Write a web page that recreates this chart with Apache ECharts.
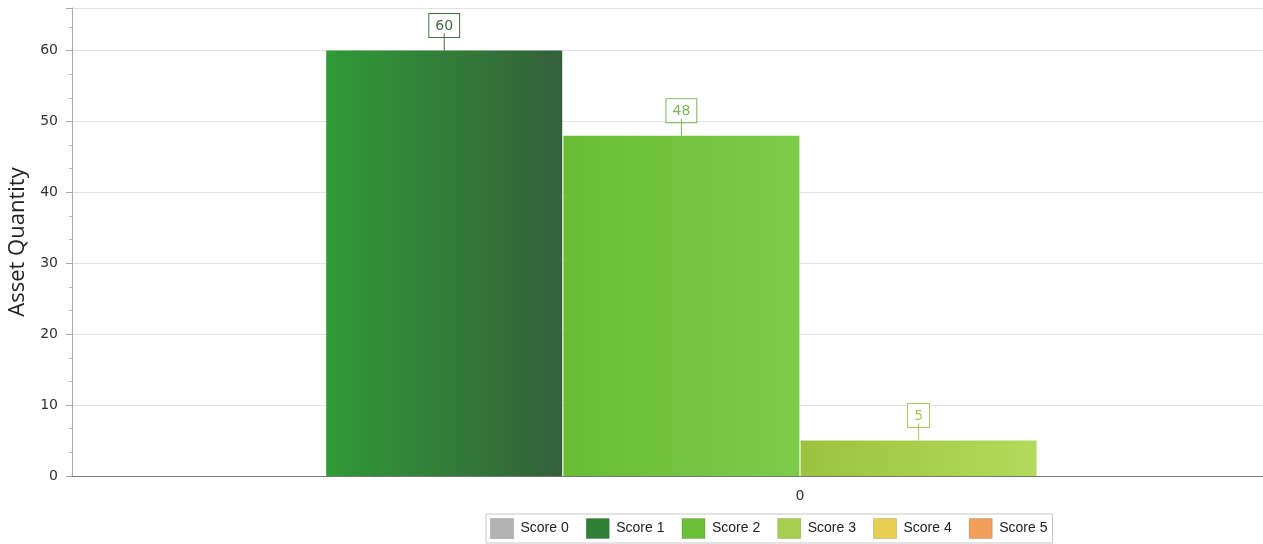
<!DOCTYPE html>
<html>
<head>
<meta charset="utf-8">
<script src="https://cdn.jsdelivr.net/npm/echarts@6/dist/echarts.min.js"></script>
<style>
  html, body { margin: 0; padding: 0; background: #fff; }
  #chart { width: 1263px; height: 544px; }
</style>
</head>
<body>
<div id="chart"></div>
<script>
// Asset quantity per score band
const categories = ['0'];
const seriesNames = ['Score 0', 'Score 1', 'Score 2', 'Score 3', 'Score 4', 'Score 5'];
const score0 = [0];
const score1 = [60];
const score2 = [48];
const score3 = [5];
const score4 = [0];
const score5 = [0];
const seriesValues = [score0, score1, score2, score3, score4, score5];

// fill gradient stops (left -> right) and label tint for each band
const fillLeft  = ['#b8b8b8', '#2f9a37', '#69bd35', '#9bc33f', '#e2cc4c', '#f2a45c'];
const fillRight = ['#a8a8a8', '#34603a', '#7ccb4a', '#b3db5b', '#ecd65e', '#ec9a55'];
const legendFill = ['#b3b3b3', '#2f7f36', '#6cbf38', '#a6cf4f', '#e6cf52', '#f0a05a'];
const labelTint = ['#888888', '#3f6b40', '#7cb456', '#a2c75c', '#c8b040', '#d08a48'];

const FONT = 'DejaVu Sans';

const chart = echarts.init(document.getElementById('chart'), null, { renderer: 'canvas' });

const series = seriesNames.map((name, i) => ({
  name: name,
  type: 'bar',
  barWidth: 236,
  barGap: '0.5%',
  data: seriesValues[i],
  itemStyle: {
    color: new echarts.graphic.LinearGradient(0, 0, 1, 0, [
      { offset: 0, color: fillLeft[i] },
      { offset: 1, color: fillRight[i] }
    ])
  },
  emphasis: { disabled: true },
  label: {
    show: seriesValues[i][0] > 0,
    position: 'top',
    distance: 0,
    formatter: '{box|{c}}\n{stem| }',
    rich: {
      box: {
        fontFamily: FONT,
        fontSize: 14,
        color: labelTint[i],
        borderColor: labelTint[i],
        borderWidth: 1,
        padding: [5, 6, 4, 6],
        backgroundColor: '#fff',
        lineHeight: 16
      },
      stem: {
        width: 1,
        height: 17,
        lineHeight: 17,
        fontSize: 17,
        backgroundColor: labelTint[i]
      }
    }
  }
}));

chart.setOption({
  animation: false,
  backgroundColor: '#fff',
  grid: { left: 72, top: 8, bottom: 68, width: 1456, containLabel: false, outerBoundsMode: 'none' },
  legend: {
    left: 486,
    top: 514,
    padding: [4, 5, 4, 4],
    borderColor: '#c8c8c8',
    borderWidth: 1,
    itemWidth: 23,
    itemHeight: 20,
    itemGap: 17,
    icon: 'rect',
    textStyle: { fontFamily: 'Liberation Sans', fontSize: 14, color: '#222', padding: [0, 0, 0, 2] },
    data: seriesNames.map((n, i) => ({
      name: n,
      itemStyle: { color: legendFill[i], borderColor: 'rgba(0,0,0,0.15)', borderWidth: 1 }
    }))
  },
  xAxis: {
    type: 'category',
    data: categories,
    axisLine: { lineStyle: { color: '#777', width: 1 } },
    axisTick: { alignWithLabel: true, length: 9, lineStyle: { color: '#aaa' } },
    axisLabel: { fontFamily: FONT, fontSize: 14, color: '#333', margin: 13 },
    splitLine: { show: false }
  },
  yAxis: {
    type: 'value',
    min: 0,
    max: 66,
    interval: 10,
    name: 'Asset Quantity',
    nameLocation: 'middle',
    nameGap: 43,
    nameTextStyle: { fontFamily: 'Open Sans', fontSize: 22, color: '#222' },
    axisLine: { show: true, lineStyle: { color: '#aaa' } },
    axisTick: { show: true, length: 6, lineStyle: { color: '#aaa' } },
    minorTick: { show: true, splitNumber: 3, length: 3, lineStyle: { color: '#bbb' } },
    axisLabel: { fontFamily: FONT, fontSize: 14, color: '#333', margin: 14, showMaxLabel: false },
    splitLine: { show: true, lineStyle: { color: '#e3e3e3' } }
  },
  series: series
});
</script>
</body>
</html>
